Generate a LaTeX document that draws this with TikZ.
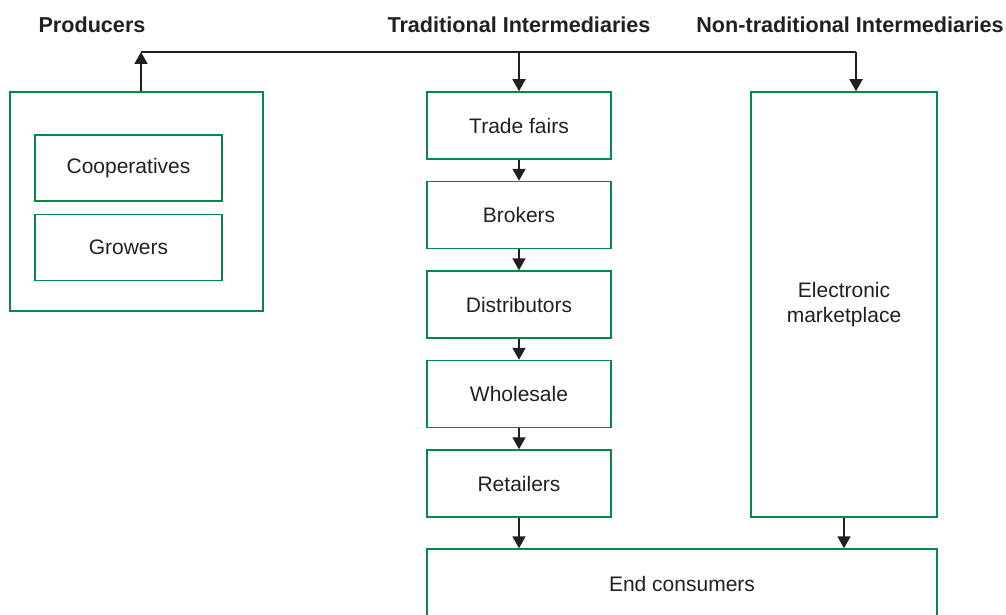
\documentclass[tikz,border=0pt]{standalone}
\usepackage{fontspec}
\setmainfont{Liberation Sans}
\usepackage{tikz}
\usetikzlibrary{positioning, arrows.meta}
\definecolor{boxgreen}{RGB}{0,137,72}
\definecolor{inkgray}{RGB}{35,31,32}
\tikzset{>={Triangle[length=6pt,width=6.5pt]}}
\tikzset{
  chanbox/.style={draw=boxgreen, line width=0.75pt, text=inkgray, align=center,
    minimum width=92pt, minimum height=33.5pt, inner sep=0pt},
  head/.style={font=\fontsize{10.8}{13}\selectfont\bfseries, text=inkgray},
  arr/.style={->, draw=inkgray, line width=0.9pt},
}

\begin{document}
\begin{tikzpicture}[x=0.5pt, y=-0.5pt, font=\fontsize{10.5}{12.6}\selectfont]
  \useasboundingbox (0,0) rectangle (1006,615);
  % headings
  \node[head] (hprod) at (92,25) {Producers};
  \node[head] (htrad) at (519,25) {Traditional Intermediaries};
  \node[head] (hnon) at (850,25) {Non-traditional Intermediaries};
  % producers
  \node[chanbox, minimum width=126.5pt, minimum height=109.5pt] (prod) at (136.5,201.5) {};
  \node[chanbox, minimum width=93.5pt, minimum height=33pt] (coop) at (128.5,168) {Cooperatives};
  \node[chanbox, minimum width=93.5pt, minimum height=33pt] (grow) at (128.5,247.5) {Growers};
  % traditional chain
  \node[chanbox] (trade) at (519,125.5) {Trade fairs};
  \node[chanbox, below=10.5pt of trade] (brokers) {Brokers};
  \node[chanbox, below=10.5pt of brokers] (distrib) {Distributors};
  \node[chanbox, below=10.5pt of distrib] (whole) {Wholesale};
  \node[chanbox, below=10.5pt of whole] (retail) {Retailers};
  % non-traditional
  \node[chanbox, minimum width=93pt, minimum height=212.5pt] (elec) at (844,304.5) {Electronic\\marketplace};
  \node[chanbox, minimum width=255pt, minimum height=34.5pt] (endc) at (682,583.5) {End consumers};
  % connectors
  \coordinate (jl) at (141,52);
  \coordinate (jr) at (856,52);
  \draw[inkgray, line width=0.9pt] (jl) -- (jr);
  \draw[arr] (prod.north -| jl) -- (jl);
  \draw[arr] (jl -| trade) -- (trade);
  \draw[arr] (jr) -- (jr |- elec.north);
  \draw[arr] (trade) -- (brokers);
  \draw[arr] (brokers) -- (distrib);
  \draw[arr] (distrib) -- (whole);
  \draw[arr] (whole) -- (retail);
  \draw[arr] (retail) -- (retail |- endc.north);
  \draw[arr] (elec) -- (elec |- endc.north);
\end{tikzpicture}
\end{document}
